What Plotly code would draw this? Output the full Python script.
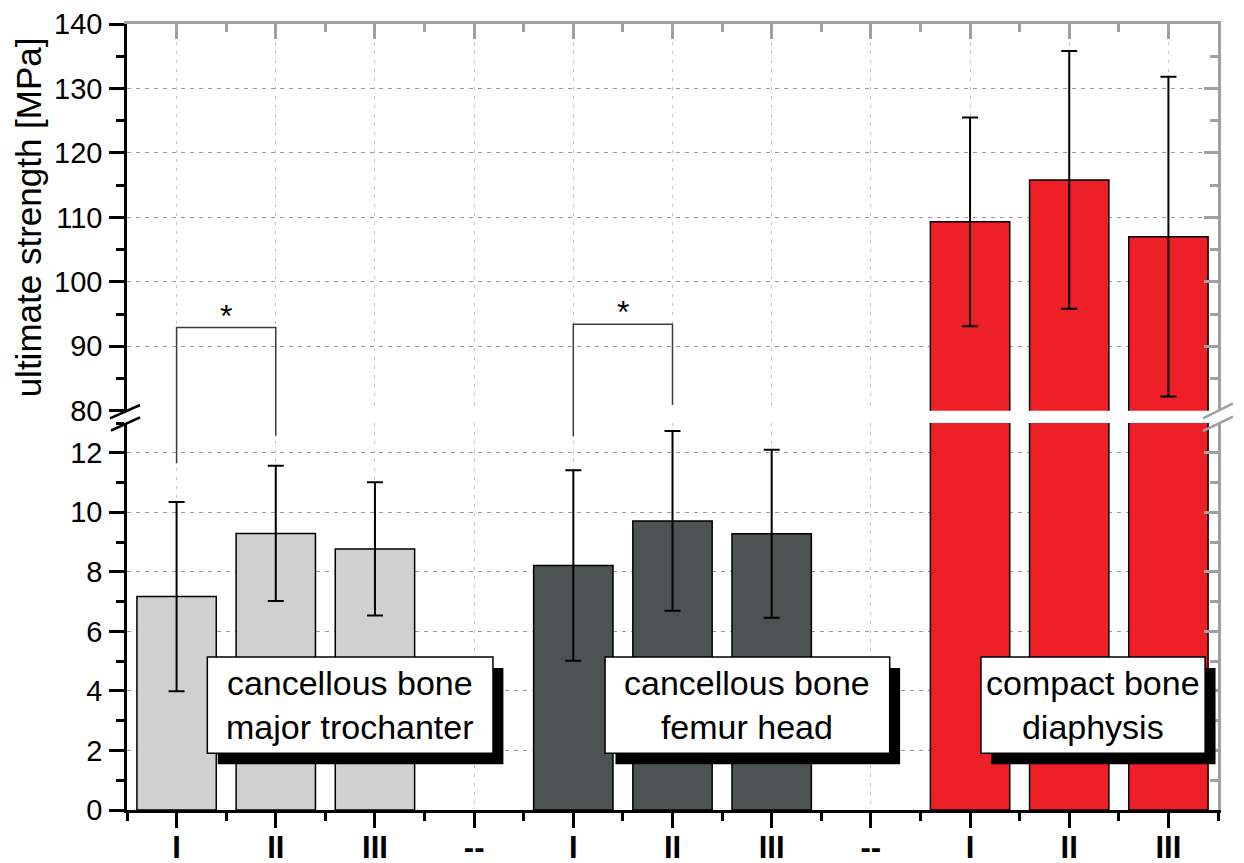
import plotly.graph_objects as go

# ---------------- data ----------------
categories = ["I", "II", "III", "--", "I", "II", "III", "--", "I", "II", "III"]
trochanter_mean = [7.17, 9.29, 8.77]
trochanter_sd = [3.18, 2.27, 2.24]
femur_head_mean = [8.21, 9.71, 9.28]
femur_head_sd = [3.20, 3.02, 2.82]
diaphysis_mean = [109.3, 115.8, 107.0]
diaphysis_sd = [16.2, 20.0, 24.8]
group_labels = ["cancellous bone<br>major trochanter",
                "cancellous bone<br>femur head",
                "compact bone<br>diaphysis"]
lower_ticks = [0, 2, 4, 6, 8, 10, 12]
upper_ticks = [80, 90, 100, 110, 120, 130, 140]
# significance brackets: (x_left, x_right, left bottom (segment, value), right bottom, top value)
sig_brackets = [
    (0, 1, ("low", 11.65), ("low", 12.57), 92.9),
    (4, 5, ("low", 12.55), ("up", 80.9), 93.4),
]

# ---------------- geometry / style ----------------
W, H = 1244, 863
OFF = 8                      # page body margin of the rendered html
PLOT_L, PLOT_R, PLOT_T, PLOT_B = 127, 1218, 24, 810   # target on-screen plot area
ML, MT = PLOT_L - OFF, PLOT_T - OFF
MR, MB = W - (PLOT_R - OFF), H - (PLOT_B - OFF)
PW, PH = PLOT_R - PLOT_L, PLOT_B - PLOT_T
LOW_RANGE = [0, 13]
UP_RANGE = [80, 140]
LOW_TOP = (PLOT_B - 423) / PH
UP_BOT = (PLOT_B - 410.7) / PH
FONT = "Liberation Sans, Arial, sans-serif"
GREY_AX = "#a0a0a0"
C_LIGHT, C_DARK, C_RED = "#d0d0d0", "#4b5452", "#ed1f27"

pos = list(range(len(categories)))
groups, cur = [], []
for p, c in zip(pos, categories):
    if c == "--":
        groups.append(cur)
        cur = []
    else:
        cur.append(p)
groups.append(cur)


def ypaper(seg, v):
    if seg == "low":
        return (v - LOW_RANGE[0]) / (LOW_RANGE[1] - LOW_RANGE[0]) * LOW_TOP
    return UP_BOT + (v - UP_RANGE[0]) / (UP_RANGE[1] - UP_RANGE[0]) * (1 - UP_BOT)


def xpaper(xv):
    return (xv + 0.5) / len(categories)


def pxp(px, py):
    return (px - PLOT_L) / PW, (PLOT_B - py) / PH


fig = go.Figure()

bar_line = dict(color="black", width=1.5)
err = lambda sd: dict(type="data", array=sd, visible=True, color="black", thickness=2, width=8)

# lower segment
fig.add_trace(go.Bar(x=groups[0], y=trochanter_mean, error_y=err(trochanter_sd),
                     marker=dict(color=C_LIGHT, line=bar_line), width=0.8,
                     xaxis="x", yaxis="y", showlegend=False))
fig.add_trace(go.Bar(x=groups[1], y=femur_head_mean, error_y=err(femur_head_sd),
                     marker=dict(color=C_DARK, line=bar_line), width=0.8,
                     xaxis="x", yaxis="y", showlegend=False))
fig.add_trace(go.Bar(x=groups[2], y=diaphysis_mean,
                     marker=dict(color=C_RED, line=bar_line), width=0.8,
                     xaxis="x", yaxis="y", showlegend=False))
# upper segment
fig.add_trace(go.Bar(x=groups[2], y=diaphysis_mean, error_y=err(diaphysis_sd),
                     marker=dict(color=C_RED, line=bar_line), width=0.8,
                     xaxis="x", yaxis="y2", showlegend=False))
# helper traces so mirrored axes render
for xa, ya in [("x2", "y2"), ("x", "y3"), ("x", "y4")]:
    fig.add_trace(go.Scatter(x=[None], y=[None], xaxis=xa, yaxis=ya,
                             showlegend=False, hoverinfo="skip"))

grid_h = dict(showgrid=True, gridcolor="#9a9a9a", griddash="4px,5px", gridwidth=1.3)

yl_common = dict(anchor="x", ticks="outside", ticklen=15, tickwidth=2.5, tickcolor="black",
                 showline=True, linecolor="black", linewidth=2.5, zeroline=False,
                 tickfont=dict(family=FONT, size=29, color="black"), ticklabelstandoff=1,
                 tickmode="array", automargin=False)
yr_common = dict(anchor="x", side="right", ticks="inside", ticklen=14, tickwidth=2.5,
                 tickcolor=GREY_AX, showline=True, linecolor=GREY_AX, linewidth=2.5,
                 zeroline=False, showticklabels=False, showgrid=False, tickmode="array",
                 automargin=False)

minor_x = [p - 0.5 for p in pos] + [pos[-1] + 0.5]

fig.update_layout(
    width=W, height=H, margin=dict(l=ML, r=MR, t=MT, b=MB, autoexpand=False),
    plot_bgcolor="white", paper_bgcolor="white", barmode="overlay",
    font=dict(family=FONT, color="black"),
    xaxis=dict(domain=[0, 1], range=[-0.5, len(categories) - 0.5], anchor="y",
               tickmode="array", tickvals=pos, ticktext=categories, automargin=False,
               ticks="outside", ticklen=15, tickwidth=2.5, tickcolor="black",
               showline=True, linecolor="black", linewidth=2.5, zeroline=False,
               showgrid=True, gridcolor="#c4c4c4", griddash="3px,6px", gridwidth=1.3,
               tickfont=dict(family=FONT, size=31, color="black", weight="bold"),
               ticklabelstandoff=-7,
               minor=dict(tickmode="array", tickvals=minor_x, ticks="outside", ticklen=8,
                          tickwidth=2.5, tickcolor="black", showgrid=False)),
    xaxis2=dict(overlaying="x", anchor="y2", side="top", range=[-0.5, len(categories) - 0.5],
                tickmode="array", tickvals=pos, showticklabels=False, automargin=False,
                ticks="inside", ticklen=15, tickwidth=2.5, tickcolor=GREY_AX,
                showline=True, linecolor=GREY_AX, linewidth=2.5, showgrid=False, zeroline=False,
                minor=dict(tickmode="array", tickvals=minor_x, ticks="inside", ticklen=8,
                           tickwidth=2.5, tickcolor=GREY_AX, showgrid=False)),
    yaxis=dict(domain=[0, LOW_TOP], range=LOW_RANGE, tickvals=lower_ticks, **grid_h, **yl_common,
               minor=dict(dtick=1, tick0=0, ticks="outside", ticklen=8, tickwidth=2.5,
                          tickcolor="black", showgrid=False)),
    yaxis2=dict(domain=[UP_BOT, 1], range=UP_RANGE, tickvals=upper_ticks, **grid_h, **yl_common,
                minor=dict(dtick=5, tick0=80, ticks="outside", ticklen=8, tickwidth=2.5,
                           tickcolor="black", showgrid=False)),
    yaxis3=dict(overlaying="y", range=LOW_RANGE, tickvals=lower_ticks, **yr_common,
                minor=dict(dtick=1, tick0=0, ticks="inside", ticklen=8, tickwidth=2.5,
                           tickcolor=GREY_AX, showgrid=False)),
    yaxis4=dict(overlaying="y2", range=UP_RANGE, tickvals=upper_ticks, **yr_common,
                minor=dict(dtick=5, tick0=80, ticks="inside", ticklen=8, tickwidth=2.5,
                           tickcolor=GREY_AX, showgrid=False)),
)

shapes, annotations = [], []

# label boxes with drop shadow (x in category units, y in lower-axis units)
box_x = [(0.31, 3.19), (4.32, 7.19), (8.11, 10.37)]
box_y = (1.91, 5.14)
sh_dx, sh_dy = 0.105, 0.37
for (x0, x1), label in zip(box_x, group_labels):
    shapes.append(dict(type="rect", xref="x", yref="y", x0=x0 + sh_dx, x1=x1 + sh_dx,
                       y0=box_y[0] - sh_dy, y1=box_y[1] - sh_dy,
                       fillcolor="black", line=dict(width=0), layer="above"))
    shapes.append(dict(type="rect", xref="x", yref="y", x0=x0, x1=x1, y0=box_y[0], y1=box_y[1],
                       fillcolor="white", line=dict(color="black", width=1.5), layer="above"))
    annotations.append(dict(xref="x", yref="y", x=(x0 + x1) / 2, y=(box_y[0] + box_y[1]) / 2,
                            text=label, showarrow=False, xanchor="center", yanchor="middle",
                            font=dict(family=FONT, size=34, color="black")))

# significance brackets
for xl, xr, lb, rb, top in sig_brackets:
    xa, xb = xpaper(xl), xpaper(xr)
    ya, yb, yt = ypaper(*lb), ypaper(*rb), ypaper("up", top)
    shapes.append(dict(type="path", xref="paper", yref="paper",
                       path=f"M {xa},{ya} L {xa},{yt} L {xb},{yt} L {xb},{yb}",
                       line=dict(color="#3c3c3c", width=1.5), layer="above"))
    annotations.append(dict(xref="paper", yref="paper", x=(xa + xb) / 2, y=yt,
                            text="*", showarrow=False, xanchor="center", yanchor="bottom",
                            yshift=-8, font=dict(family=FONT, size=32, color="black")))

# axis break marks
for (ax, ay, bx, by), col in [((110, 418.3, 140, 405), "black"), ((111, 430.5, 140, 417.3), "black"),
                              ((1203, 418.3, 1233, 403.3), GREY_AX), ((1203, 431, 1233, 416.7), GREY_AX)]:
    p0, p1 = pxp(ax, ay), pxp(bx, by)
    shapes.append(dict(type="line", xref="paper", yref="paper", x0=p0[0], y0=p0[1],
                       x1=p1[0], y1=p1[1], line=dict(color=col, width=2.5), layer="above"))

# y-axis title
annotations.append(dict(xref="paper", yref="paper", x=pxp(28, 0)[0], y=(UP_BOT + 1) / 2,
                        text="ultimate strength [MPa]", textangle=-90, showarrow=False,
                        xanchor="center", yanchor="middle",
                        font=dict(family=FONT, size=35, color="black")))

fig.update_layout(shapes=shapes, annotations=annotations)
fig.write_html("out.html")
